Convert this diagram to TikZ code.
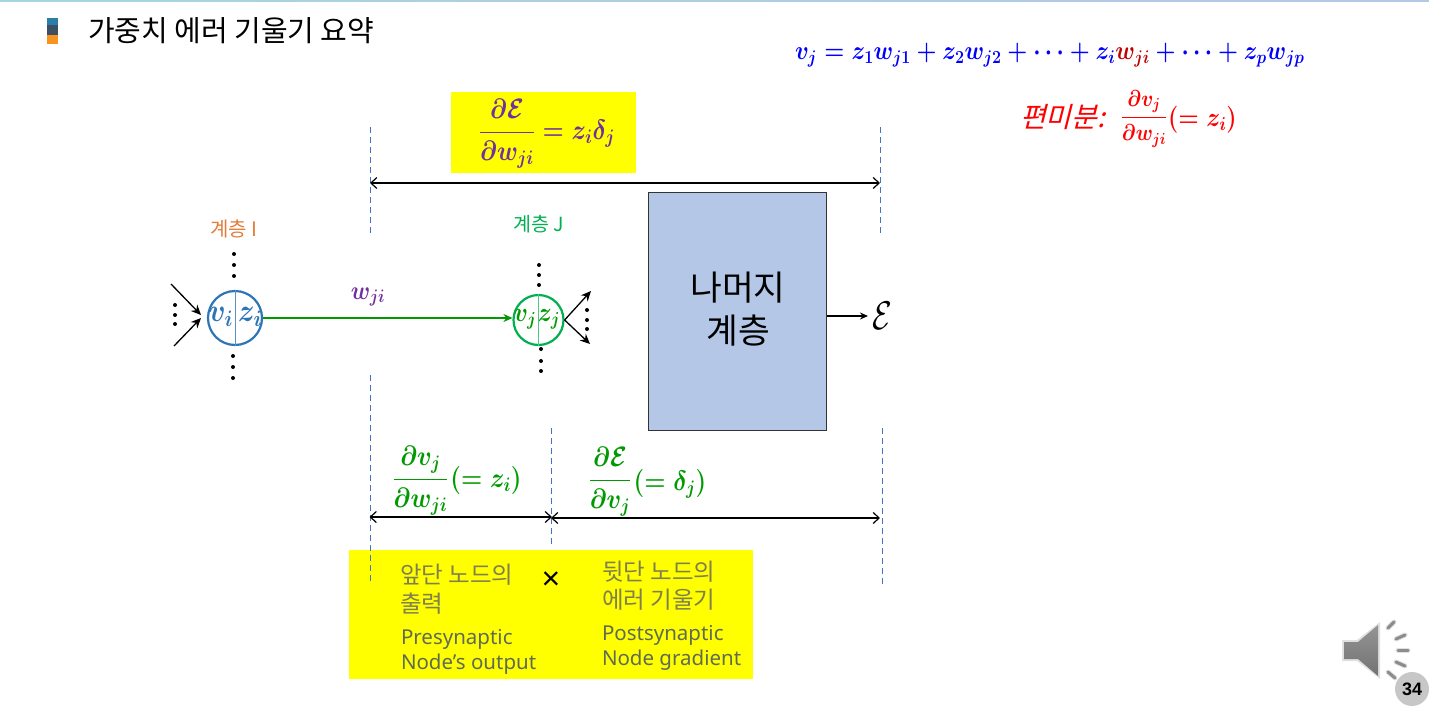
\RequirePackage{fix-cm}
\documentclass[tikz,border=0pt]{standalone}
\usepackage{amsmath}
\usepackage{fontspec}
\setmainfont{Noto Sans}
\newfontfamily\krfont{Noto Sans CJK KR}
\newfontfamily\krslant[FakeSlant=0.25]{Noto Sans CJK KR}
\newfontfamily\pgfont{Liberation Sans}
\newcommand{\fsz}[1]{\fontsize{#1}{#1}\selectfont}
\usetikzlibrary{arrows.meta,calc}
\definecolor{dashblue}{HTML}{4472C4}
\definecolor{purp}{HTML}{7030A0}
\definecolor{eqgreen}{HTML}{009A00}
\definecolor{nodeblue}{HTML}{2E75B6}
\definecolor{nodegreen}{HTML}{00B050}
\definecolor{hl}{HTML}{FFFF00}
\definecolor{boxfill}{HTML}{B4C7E7}
\definecolor{krgray}{HTML}{7F7F50}
\definecolor{engray}{HTML}{5F6B55}
\definecolor{bulA}{HTML}{2A7FA8}
\definecolor{bulB}{HTML}{3D4F63}
\definecolor{bulC}{HTML}{F7931E}
\definecolor{layerI}{HTML}{E27D3C}
\definecolor{ruleA}{HTML}{A8D5DC}
\definecolor{ruleB}{HTML}{B4C7E7}
\tikzset{
  txt/.style={inner sep=0pt,outer sep=0pt},
  mth/.style={txt,xscale=0.87,font=\fsz{#1}\boldmath},
  guide/.style={draw=dashblue,line width=0.9pt,dash pattern=on 6pt off 4pt},
  span/.style={draw=black,line width=1.2pt,{Straight Barb[length=6pt,width=11pt]}-{Straight Barb[length=6pt,width=11pt]}},
  sarrow/.style={draw=black,line width=1.3pt,-{Stealth[length=10pt,width=9pt]}},
  dotmark/.style={circle,fill=black,inner sep=0pt,minimum size=4pt},
  krl/.style={txt,anchor=west,text=krgray,font=\krfont\fsz{23.5}},
  enl/.style={txt,anchor=west,text=engray,font=\fsz{20.5}},
  yellowbox/.style={fill=hl,draw=none},
  sp/.style={draw=black!45,line width=3pt,line cap=round},
  sph/.style={draw=black!12,line width=5pt,line cap=round}
}
\begin{document}
\begin{tikzpicture}[x=1pt,y=-1pt]
\useasboundingbox (0,0) rectangle (1429,712);
% top rule
\fill[left color=ruleA,right color=ruleB] (0,0) rectangle (1429,1.5);
% bullet
\fill[bulA] (47,18) rectangle (58,25);
\fill[bulB] (47,25) rectangle (58,35);
\fill[bulC] (47,35) rectangle (58,44);
\node[txt,anchor=west,font=\krfont\fsz{29}] (title) at (88,31) {가중치 에러 기울기 요약};
% yellow boxes
\node[yellowbox,minimum width=185pt,minimum height=81pt,inner sep=0pt] (topy) at (543.5,132.5) {};
\node[yellowbox,minimum width=404pt,minimum height=129pt,inner sep=0pt] (boty) at (550.5,614.5) {};
% guides
\coordinate (g1a) at (370,127); \coordinate (g1b) at (370,235);
\coordinate (g2a) at (370,375); \coordinate (g2b) at (370,583);
\coordinate (g3a) at (551,428); \coordinate (g3b) at (551,545);
\coordinate (g4a) at (880,127); \coordinate (g4b) at (880,235);
\coordinate (g5a) at (882,428); \coordinate (g5b) at (882,586);
\draw[guide] (g1a)--(g1b);
\draw[guide] (g2a)--(g2b);
\draw[guide] (g3a)--(g3b);
\draw[guide] (g4a)--(g4b);
\draw[guide] (g5a)--(g5b);
% spans
\coordinate (s1a) at (370,183); \coordinate (s1b) at (880,183);
\coordinate (s2a) at (369.5,517); \coordinate (s2b) at (552,517);
\coordinate (s3a) at (551,518); \coordinate (s3b) at (880,518);
\draw[span] (s1a)--(s1b);
\draw[span] (s2a)--(s2b);
\draw[span] (s3a)--(s3b);
% top formula
\node[mth=28,text=purp,anchor=center] (f1) at (547,134) {$\displaystyle\frac{\partial\mathcal{E}}{\partial w_{ji}}=z_i\delta_j$};
% rest box
\node[draw=black!80,line width=1pt,fill=boxfill,minimum width=178pt,minimum height=238pt,inner sep=0pt] (rest) at (737.8,311) {};
\node[txt,font=\krfont\fsz{34.5}] (rest1) at (738,288) {나머지};
\node[txt,font=\krfont\fsz{34.5}] (rest2) at (738,331) {계층};
\node[txt,font=\fsz{40},xscale=0.8] (err) at (882.5,316) {$\mathcal{E}$};
\coordinate (errin) at (868,316);
\draw[draw=black,line width=1.3pt,-{Stealth[length=8pt,width=7pt]}] (rest.east|-err) -- (errin);
% layer labels
\node[txt,text=layerI,font=\krfont\fsz{20}] (li) at (234,229) {계층 I};
\node[txt,text=nodegreen,font=\krfont\fsz{19.5}] (lj) at (539,224) {계층 J};
% node i
\node[circle,draw=nodeblue,line width=2.2pt,minimum size=54pt,inner sep=0pt] (ni) at (235,318) {};
\draw[nodeblue!80,line width=1pt] (ni.north) -- (ni.south);
\node[mth=32,text=nodeblue] (vi) at (221,317) {$v_i$};
\node[mth=32,text=nodeblue] (zi) at (250,317) {$z_i$};
% node j
\node[circle,draw=nodegreen,line width=2.2pt,minimum size=50pt,inner sep=0pt] (nj) at (538.5,320) {};
\draw[nodegreen!70,line width=1pt] (nj.north) -- (nj.south);
\node[mth=27,text=eqgreen] (vj) at (525,319) {$v_j$};
\node[mth=27,text=eqgreen] (zj) at (549,319) {$z_j$};
% weight
\draw[draw=eqgreen,line width=1.2pt,-{Stealth[length=9pt,width=8pt]}] (ni.east) -- (nj.west|-ni.east);
\node[mth=26,text=purp] (wji) at (368,297) {$w_{ji}$};
% dots
\foreach \n/\x/\y in {a/234/254,b/234/265,c/234/276,d/233/356,e/233/367,f/233/378,
  g/175/305,h/175/315,k/175/324,l/539/265,m/539/275,o/539/285,p/541/349,q/541/361,r/541/371,
  s/587/310,t/587/320,u/587/329}
  \node[dotmark] (dot\n) at (\x,\y) {};
% input / output arrows
\coordinate (in1) at (171,284); \coordinate (in1e) at (201,315);
\coordinate (in2) at (174,346); \coordinate (in2e) at (201,318);
\coordinate (out1) at (591,291); \coordinate (out2) at (590,344);
\draw[sarrow] (in1)--(in1e);
\draw[sarrow] (in2)--(in2e);
\draw[sarrow] (nj.east)--(out1);
\draw[sarrow] (nj.east)--(out2);
% lower formulas
\node[mth=28,text=eqgreen] (f2) at (420.5,481) {$\displaystyle\frac{\partial v_j}{\partial w_{ji}}$};
\node[mth=28,text=eqgreen] (f2b) at (486,480) {$(=z_i)$};
\node[mth=28,text=eqgreen] (f3) at (610,482) {$\displaystyle\frac{\partial\mathcal{E}}{\partial v_j}$};
\node[mth=28,text=eqgreen] (f3b) at (670,484) {$(=\delta_j)$};
% bottom texts
\node[krl] (t1) at (400,575) {앞단 노드의};
\node[krl] (t2) at (400,604) {출력};
\node[enl] (t3) at (401,639.5) {Presynaptic};
\node[enl] (t4) at (401,664.5) {Node’s output};
\node[txt,font=\pgfont\fsz{32}] (times) at (551,581) {×};
\node[krl] (t5) at (602,572) {뒷단 노드의};
\node[krl] (t6) at (602,600) {에러 기울기};
\node[enl] (t7) at (602,635.5) {Postsynaptic};
\node[enl] (t8) at (602,660.5) {Node gradient};
% top-right
\node[mth=26.3,text=blue,anchor=west] (eq) at (795,55) {$v_j=z_1w_{j1}+z_2w_{j2}+\cdots+z_i\textcolor[HTML]{C00000}{w_{ji}}+\cdots+z_pw_{jp}$};
\node[txt,text=red,font=\krslant\fsz{28},anchor=west] (pm) at (1020,117) {편미분:};
\node[mth=23,text=red] (pf) at (1144,119) {$\displaystyle\frac{\partial v_j}{\partial w_{ji}}$};
\node[mth=27,text=red,anchor=west] (pz) at (1168,120) {$(=z_i)$};
% speaker
\fill[black!12] (1342,640) -- (1357,640) -- (1380,622) -- (1380,679) -- (1357,661) -- (1342,661) -- cycle;
\shade[top color=black!42,bottom color=black!55] (1344,642) -- (1358,642) -- (1378,625) -- (1378,676) -- (1358,659) -- (1344,659) -- cycle;
\foreach \a/\b/\c/\d in {1388/628/1394/622,1396/639/1405/635,1398/650/1408/650,1396/662/1405/666,1388/672/1395/678}{
  \draw[sph] (\a,\b)--(\c,\d);
  \draw[sp] (\a,\b)--(\c,\d);
}
\node[circle,fill=black!22,minimum size=34pt,inner sep=0pt,font=\pgfont\fsz{18}\bfseries] (pg) at (1412,689) {34};
\end{tikzpicture}
\end{document}
